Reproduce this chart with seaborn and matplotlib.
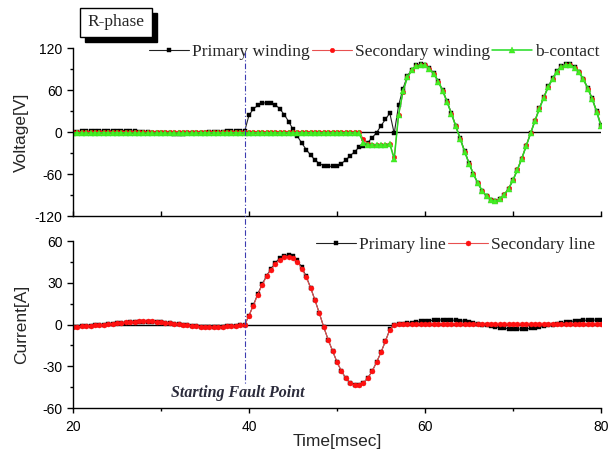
import numpy as np
import matplotlib
matplotlib.use("Agg")
import matplotlib.pyplot as plt
import matplotlib.patches as mpatches
import matplotlib.transforms as mtransforms
from matplotlib.lines import Line2D
from matplotlib.ticker import MultipleLocator
from matplotlib.font_manager import FontProperties
import seaborn as sns

# sampling grid (msec)
TIME_MS = np.arange(20, 80.25, 0.5)

# ---- Voltage, R-phase ----
V_PRIMARY_PRE = [0.5, 0.5, 1, 1, 1, 1, 1, 1.5, 1.5, 1.5,
                 1.5, 2, 2, 1.5, 1, 0.5, 0, -0.5, -1, -1.5,
                 -2, -2, -2, -2.5, -2.5, -2.5, -2, -2, -2, -1.5,
                 -1, -0.5, 0, 0.5, 0.5, 1, 1, 1, 1, 1]
V_PRIMARY_FAULT = [24, 33, 38, 41, 42, 42, 39, 33, 25, 15,
                   4, -6, -16, -25, -33, -40, -45, -48, -49, -49,
                   -48, -45, -40, -34, -28, -22, -20, -15, -8, -1,
                   9, 18, 27, -2, 38, 62]
V_PRIMARY_POST = [80, 89, 95, 97, 96, 91, 84, 73, 60, 44,
                  27, 9, -9, -27, -44, -60, -73, -84, -92, -97,
                  -99, -96, -90, -81, -69, -54, -38, -20, -2, 16,
                  34, 50, 65, 77, 87, 94, 97, 97, 93, 86,
                  76, 63, 48, 30, 10]

V_SECONDARY_PRE = [0.5, 0.5, 0.5, 0.5, 0.5, 0.5, 0.5, 0.5, 0.5, 0.5,
                   0.5, 0.5, 0.5, 0.5, 0.5, 0, 0, 0, 0, 0,
                   0, 0, 0, 0, 0, 0, 0, 0, 0, 0,
                   0, 0, 0.5, 0.5, 0.5, 0.5, 0.5, 0.5, 0.5, 0.5,
                   0.5, 0.5, 0.5, 0.5, 0.5, 0.5, 0.5, 0.5, 0.5, 0.5,
                   0.5, 0.5, 0.5, 0.5, 0.5, 0.5, 0.5, 0.5, 0.5, 0.5,
                   0.5, 0.5, 0.5, 0.5, 0.5, 0]
V_SECONDARY_FAULT = [-10, -17, -18, -18, -18, -18, -17, -36, 24, 57]
V_SECONDARY_POST = [79, 88, 94, 96, 95, 90, 83, 72, 59, 43,
                    26, 8, -10, -28, -45, -60, -73, -84, -92, -97,
                    -98, -95, -89, -80, -68, -53, -37, -19, -1, 17,
                    34, 50, 64, 76, 86, 93, 96, 96, 92, 85,
                    75, 62, 47, 29, 9]

V_BCONTACT_PRE = [-1, -1, -1.5, -1.5, -1.5, -1.5, -1, -1, -1, -1,
                  -1, -1, -1.5, -1.5, -1.5, -1.5, -1.5, -1.5, -1.5, -1.5,
                  -1.5, -1.5, -1.5, -1.5, -1.5, -1.5, -1.5, -1.5, -1.5, -1,
                  -1, -1, -1, -1, -1, -1, -1, -1, -1, -1,
                  -1, -1, -1, -1, -1, -1, -1, -1, -1, -1,
                  -1, -1, -1, -1, -1, -1, -1, -1, -1, -1,
                  -1, -1, -1, -1, -1, -2]
V_BCONTACT_FAULT = [-15, -18, -18, -18, -18, -18, -17, -39, 25, 58]
V_BCONTACT_POST = [78, 88, 94, 96, 95, 90, 83, 72, 59, 43,
                   26, 8, -10, -28, -45, -60, -73, -84, -92, -97,
                   -99, -96, -90, -81, -69, -54, -38, -20, -2, 16,
                   33, 49, 64, 76, 86, 93, 96, 96, 92, 85,
                   75, 62, 47, 29, 8]

# ---- Current ----
I_PRIMARY_PRE = [-1.5, -1.5, -1.2, -1, -0.8, -0.5, -0.2, 0, 0.3, 0.6,
                 0.9, 1.2, 1.4, 1.7, 1.9, 2, 2.1, 2.1, 2, 1.8,
                 1.6, 1.3, 1, 0.6, 0.2, -0.2, -0.6, -1, -1.3, -1.5,
                 -1.7, -1.8, -1.8, -1.7, -1.5, -1.3, -1, -0.8, -0.5, -0.3]
I_PRIMARY_FAULT = [6.4, 14, 22, 29, 35, 40, 44.5, 47.5, 49.5, 50,
                   49, 46, 41, 34.5, 26.5, 17.5, 8, -2, -11, -19,
                   -27, -33.5, -38.5, -42, -43.5, -43.5, -42, -38.5, -33.5, -27,
                   -20, -12, -3.5, 0]
I_PRIMARY_POST = [0.3, 0.6, 1, 1.4, 1.8, 2.2, 2.5, 2.8, 3, 3.2,
                  3.3, 3.3, 3.2, 3, 2.7, 2.3, 1.8, 1.2, 0.6, 0,
                  -0.6, -1.2, -1.8, -2.3, -2.7, -3, -3.2, -3.3, -3.3, -3.1,
                  -2.8, -2.4, -1.9, -1.3, -0.7, -0.1, 0.5, 1.1, 1.6, 2.1,
                  2.5, 2.8, 3, 3.1, 3.2, 3.1, 3]

I_SECONDARY_PRE = [-1.8, -1.6, -1.4, -1.1, -0.9, -0.6, -0.3, 0, 0.3, 0.6,
                   0.9, 1.2, 1.5, 1.8, 2, 2.2, 2.3, 2.3, 2.2, 2,
                   1.7, 1.4, 1, 0.6, 0.2, -0.2, -0.6, -1, -1.4, -1.7,
                   -1.9, -2, -2, -1.9, -1.7, -1.4, -1.1, -0.8, -0.5, -0.3]
I_SECONDARY_FAULT = [6.4, 13.6, 21.5, 28.5, 34.5, 39.5, 43.5, 46.5, 48.3, 48.7,
                     47.8, 45, 40.2, 34, 26.2, 17.3, 8, -2, -11, -19,
                     -27, -33.5, -38.5, -42, -43.5, -43.5, -42, -38.5, -33.5, -27,
                     -20, -12, -4, 0]
I_SECONDARY_POST = [0.2, 0.3, 0.3, 0.4, 0.4, 0.4, 0.5, 0.5, 0.5, 0.5,
                    0.5, 0.5, 0.5, 0.5, 0.4, 0.4, 0.4, 0.3, 0.3, 0.3,
                    0.2, 0.2, 0.2, 0.2, 0.2, 0.2, 0.2, 0.2, 0.2, 0.2,
                    0.2, 0.2, 0.2, 0.3, 0.3, 0.3, 0.3, 0.4, 0.4, 0.4,
                    0.4, 0.4, 0.4, 0.4, 0.4, 0.4, 0.4]

V_PRIMARY = V_PRIMARY_PRE + V_PRIMARY_FAULT + V_PRIMARY_POST
V_SECONDARY = V_SECONDARY_PRE + V_SECONDARY_FAULT + V_SECONDARY_POST
V_BCONTACT = V_BCONTACT_PRE + V_BCONTACT_FAULT + V_BCONTACT_POST
I_PRIMARY = I_PRIMARY_PRE + I_PRIMARY_FAULT + I_PRIMARY_POST
I_SECONDARY = I_SECONDARY_PRE + I_SECONDARY_FAULT + I_SECONDARY_POST

FAULT_T = 39.6

sns.set_style("ticks")
plt.rcParams.update({
    "font.family": ["Liberation Sans", "DejaVu Sans"],
    "axes.unicode_minus": False,
    "axes.linewidth": 1.0,
    "axes.edgecolor": "black",
    "xtick.color": "black",
    "ytick.color": "black",
    "xtick.labelsize": 10,
    "ytick.labelsize": 10,
    "axes.labelsize": 12.5,
})

SERIF = FontProperties(family=["Liberation Serif", "DejaVu Serif"], size=12.5)

fig = plt.figure(figsize=(6.08, 4.65), dpi=100)
ax_v = fig.add_axes([73 / 608, 1 - 216 / 465, 528 / 608, 168 / 465])
ax_i = fig.add_axes([73 / 608, 1 - 408 / 465, 528 / 608, 167 / 465])

# ---- voltage panel ----
ax_v.axhline(0, color="black", lw=1, zorder=1)
sns.lineplot(x=TIME_MS, y=V_PRIMARY, ax=ax_v, color="#222222", lw=0.8,
             marker="s", markersize=3.3, markerfacecolor="black",
             markeredgecolor="black", markeredgewidth=0.3,
             label="Primary winding")
sns.lineplot(x=TIME_MS, y=V_SECONDARY, ax=ax_v, color="#e85050", lw=0.8,
             marker="o", markersize=3.3, markerfacecolor="#ff1010",
             markeredgecolor="#ff1010", markeredgewidth=0.3,
             label="Secondary winding")
sns.lineplot(x=TIME_MS, y=V_BCONTACT, ax=ax_v, color="#22dd22", lw=1.1,
             marker="^", markersize=4, markerfacecolor="#44ee22",
             markeredgecolor="#33dd22", markeredgewidth=0.3,
             label="b-contact")

ax_v.set_xlim(20, 80)
ax_v.set_ylim(-120, 120)
ax_v.xaxis.set_major_locator(MultipleLocator(10))
ax_v.yaxis.set_major_locator(MultipleLocator(60))
ax_v.yaxis.set_minor_locator(MultipleLocator(30))
ax_v.tick_params(axis="x", direction="in", length=3.5, width=1,
                 labelbottom=False)
ax_v.tick_params(axis="y", which="major", direction="out", length=4.5,
                 width=1, pad=3)
ax_v.tick_params(axis="y", which="minor", direction="out", length=2.2,
                 width=1)
ax_v.set_xlabel("")
ax_v.set_ylabel("Voltage[V]")
ax_v.yaxis.set_label_coords(-0.083, 0.5)
ax_v.legend(loc="center right", bbox_to_anchor=(0.998, 0.976), ncol=3,
            frameon=False, prop=SERIF, handlelength=2.3, handletextpad=0.2,
            columnspacing=0.1, borderpad=0, borderaxespad=0)

# ---- current panel ----
ax_i.axhline(0, color="black", lw=1, zorder=1)
sns.lineplot(x=TIME_MS, y=I_PRIMARY, ax=ax_i, color="#222222", lw=0.8,
             marker="s", markersize=3.3, markerfacecolor="black",
             markeredgecolor="black", markeredgewidth=0.3,
             label="Primary line")
sns.lineplot(x=TIME_MS, y=I_SECONDARY, ax=ax_i, color="#e85050", lw=0.8,
             marker="o", markersize=3.6, markerfacecolor="#ff1010",
             markeredgecolor="#ff1010", markeredgewidth=0.3,
             label="Secondary line")

ax_i.set_xlim(20, 80)
ax_i.set_ylim(-60, 60)
ax_i.xaxis.set_major_locator(MultipleLocator(20))
ax_i.xaxis.set_minor_locator(MultipleLocator(10))
ax_i.yaxis.set_major_locator(MultipleLocator(30))
ax_i.yaxis.set_minor_locator(MultipleLocator(15))
ax_i.tick_params(axis="both", which="major", direction="out", length=4.5,
                 width=1, pad=3)
ax_i.tick_params(axis="x", which="major", length=3.5, pad=5)
ax_i.tick_params(axis="both", which="minor", direction="out", length=2.2,
                 width=1)
ax_i.set_xlabel("Time[msec]")
ax_i.xaxis.set_label_coords(0.5, -0.155)
ax_i.set_ylabel("Current[A]")
ax_i.yaxis.set_label_coords(-0.083, 0.5)
ax_i.legend(loc="center right", bbox_to_anchor=(0.989, 0.976), ncol=2,
            frameon=False, prop=SERIF, handlelength=2.3, handletextpad=0.2,
            columnspacing=0.1, borderpad=0, borderaxespad=0)

ax_i.text(38.75, -48.9, "Starting Fault Point", ha="center", va="center",
          fontsize=11.5, fontweight="bold", fontstyle="italic",
          family=["Liberation Serif", "DejaVu Serif"], color="#2b2b3b")

for ax in (ax_v, ax_i):
    sns.despine(ax=ax)

# fault marker spanning both panels
trans = mtransforms.blended_transform_factory(ax_i.transData, fig.transFigure)
fig.add_artist(Line2D([FAULT_T, FAULT_T], [1 - 52 / 465, 1 - 385 / 465],
                      transform=trans, color="#3c3cb0", lw=0.8,
                      linestyle=(0, (5, 2, 1, 2)), zorder=5))

# "R-phase" label box with shadow
fig.add_artist(mpatches.Rectangle((85 / 608, 1 - 42 / 465), 72 / 608, 29 / 465,
                                  transform=fig.transFigure,
                                  facecolor="black", edgecolor="black"))
fig.add_artist(mpatches.Rectangle((80 / 608, 1 - 37 / 465), 72 / 608, 29 / 465,
                                  transform=fig.transFigure,
                                  facecolor="white", edgecolor="black", lw=1))
fig.text(116 / 608, 1 - 22.5 / 465, "R-phase", ha="center", va="center",
         fontproperties=SERIF)

fig.savefig("out.png", dpi=100, facecolor="white")
